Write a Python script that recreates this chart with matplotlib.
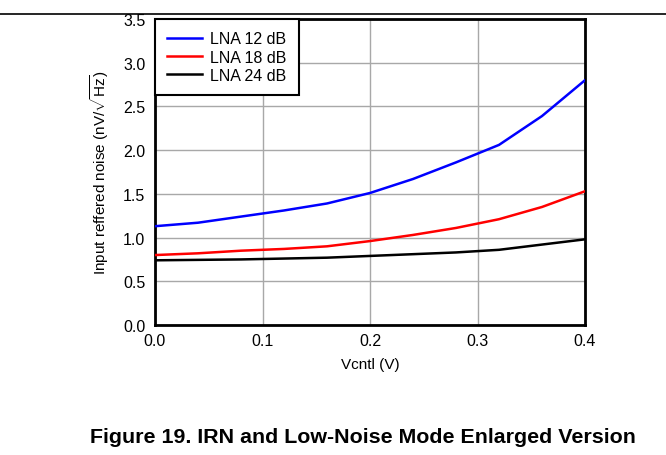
import matplotlib
matplotlib.use("Agg")
import matplotlib.pyplot as plt
from matplotlib.lines import Line2D

plt.rcParams['font.family'] = ['Liberation Sans', 'DejaVu Sans']
plt.rcParams['mathtext.fontset'] = 'custom'
plt.rcParams['mathtext.rm'] = 'Liberation Sans'

# Vcntl (V)
vcntl = [0.0, 0.04, 0.08, 0.12, 0.16, 0.20, 0.24, 0.28, 0.32, 0.36, 0.40]
# input referred noise (nV/sqrt(Hz))
lna12 = [1.13, 1.17, 1.24, 1.31, 1.39, 1.51, 1.67, 1.86, 2.06, 2.39, 2.80]
lna18 = [0.80, 0.82, 0.85, 0.87, 0.90, 0.96, 1.03, 1.11, 1.21, 1.35, 1.53]
lna24 = [0.74, 0.745, 0.75, 0.76, 0.77, 0.79, 0.81, 0.83, 0.86, 0.92, 0.98]

series = [("LNA 12 dB", lna12, "#0000ff"),
          ("LNA 18 dB", lna18, "#ff0000"),
          ("LNA 24 dB", lna24, "#000000")]

fig = plt.figure(figsize=(6.66, 4.56), dpi=100)
ax = fig.add_axes([155/666, 1 - 326/456, 430/666, 306/456])

for name, vals, col in series:
    ax.plot(vcntl, vals, color=col, lw=1.8, label=name, zorder=3)

ax.set_xlim(0, 0.4)
ax.set_ylim(0, 3.5)
ax.set_xticks([0.0, 0.1, 0.2, 0.3, 0.4])
ax.set_yticks([0.0, 0.5, 1.0, 1.5, 2.0, 2.5, 3.0, 3.5])
ax.xaxis.set_major_formatter(plt.FormatStrFormatter('%.1f'))
ax.yaxis.set_major_formatter(plt.FormatStrFormatter('%.1f'))
ax.tick_params(length=0, labelsize=11.5)
ax.tick_params(axis="x", pad=6)
ax.tick_params(axis="y", pad=7)
ax.grid(True, color="#a8a8a8", lw=1.0)
for sp in ax.spines.values():
    sp.set_linewidth(2.0)
    sp.set_color("black")

ax.set_xlabel("Vcntl (V)", fontsize=11, labelpad=6)
ax.set_ylabel(r"Input reffered noise (nV/$\sqrt{\mathrm{Hz}}$)", fontsize=11, labelpad=9)

# legend box tucked into the upper-left corner
leg = ax.legend(loc="upper left", borderaxespad=0, fontsize=11.5, frameon=True,
                fancybox=False, handlelength=2.15, handletextpad=0.5,
                labelspacing=0.2, borderpad=0.78)
leg.get_frame().set_edgecolor("black")
leg.get_frame().set_linewidth(1.5)
leg.get_frame().set_alpha(1)

# rule across the top of the page
fig.add_artist(Line2D([0, 1], [1 - 15/456, 1 - 15/456], color="black", lw=1.2,
                      transform=fig.transFigure))

fig.text(363/666, 1 - 438/456, "Figure 19. IRN and Low-Noise Mode Enlarged Version",
         ha="center", va="center", fontsize=15.4, fontweight="bold")

fig.savefig("out.png", dpi=100)
